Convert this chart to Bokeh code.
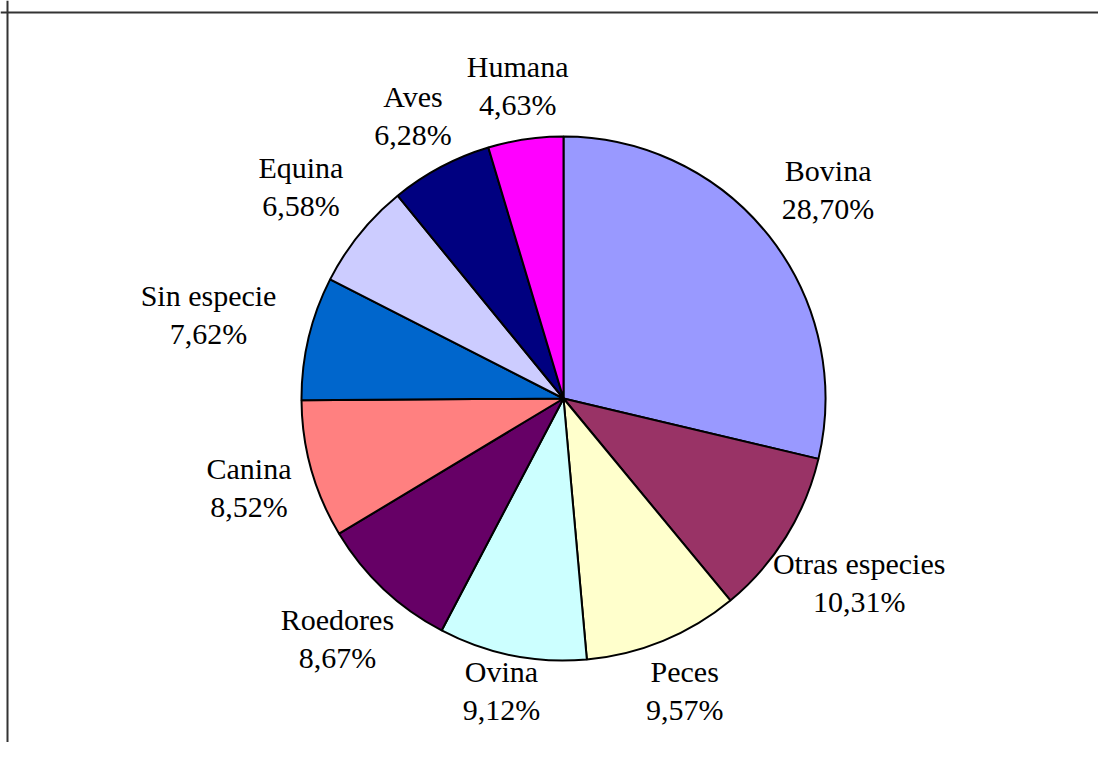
import math
from bokeh.plotting import figure
from bokeh.models import ColumnDataSource, Span, Range1d
from bokeh.core.properties import value
from bokeh.embed import file_html
from bokeh.resources import INLINE

# ---- data ----
categories = ["Bovina", "Otras especies", "Peces", "Ovina", "Roedores",
              "Canina", "Sin especie", "Equina", "Aves", "Humana"]
percentages = [28.70, 10.31, 9.57, 9.12, 8.67, 8.52, 7.62, 6.58, 6.28, 4.63]
colors = ["#9999FF", "#993366", "#FFFFCC", "#CCFFFF", "#660066",
          "#FF8080", "#0066CC", "#CCCCFF", "#000080", "#FF00FF"]
pct_labels = [("%.2f%%" % v).replace(".", ",") for v in percentages]

# ---- layout ----
W, H = 1098, 742
CX, CY, R = 563, 344, 262
FS = 30
GAP = 18
HH = 36

total = sum(percentages)
starts, ends, lx, ly = [], [], [], []
cum = 0.0
for name, pct_txt, v in zip(categories, pct_labels, percentages):
    a0 = math.pi / 2 - 2 * math.pi * cum / total
    a1 = math.pi / 2 - 2 * math.pi * (cum + v) / total
    starts.append(a0)
    ends.append(a1)
    mid = (a0 + a1) / 2
    dx, dy = math.cos(mid), math.sin(mid)
    hw = max(len(name), len(pct_txt)) * 0.5 * FS / 2
    tx = hw / abs(dx) if abs(dx) > 1e-6 else 1e9
    ty = HH / abs(dy) if abs(dy) > 1e-6 else 1e9
    d = R + GAP + min(tx, ty)
    lx.append(CX + dx * d)
    # keep the label block inside the chart area
    ly.append(max(CY + dy * d, HH + 16))
    cum += v

src = ColumnDataSource(dict(cat=categories, pct=percentages, lab=pct_labels,
                            color=colors, start=starts, end=ends, lx=lx, ly=ly))

p = figure(width=W, height=H, output_backend="svg", toolbar_location=None,
           x_range=Range1d(0, W), y_range=Range1d(0, H), min_border=0)
p.axis.visible = False
p.grid.visible = False
p.outline_line_color = None
p.background_fill_color = "white"
p.border_fill_color = "white"

p.wedge(x=CX, y=CY, radius=R, start_angle="start", end_angle="end",
        direction="clock", fill_color="color", line_color="black",
        line_width=2, source=src)

common = dict(text_align="center", text_baseline="middle",
              text_font=value("Liberation Serif"), text_font_size="%dpx" % FS,
              text_color="black", source=src)
p.text(x="lx", y="ly", text="cat", y_offset=-19, **common)
p.text(x="lx", y="ly", text="lab", y_offset=19, **common)

# chart-area frame (only left and top edges are visible in the window)
p.add_layout(Span(location=7, dimension="height", line_color="#333333", line_width=2))
p.add_layout(Span(location=H - 12, dimension="width", line_color="#333333", line_width=2))

open("out.html", "w").write(file_html(p, INLINE))
